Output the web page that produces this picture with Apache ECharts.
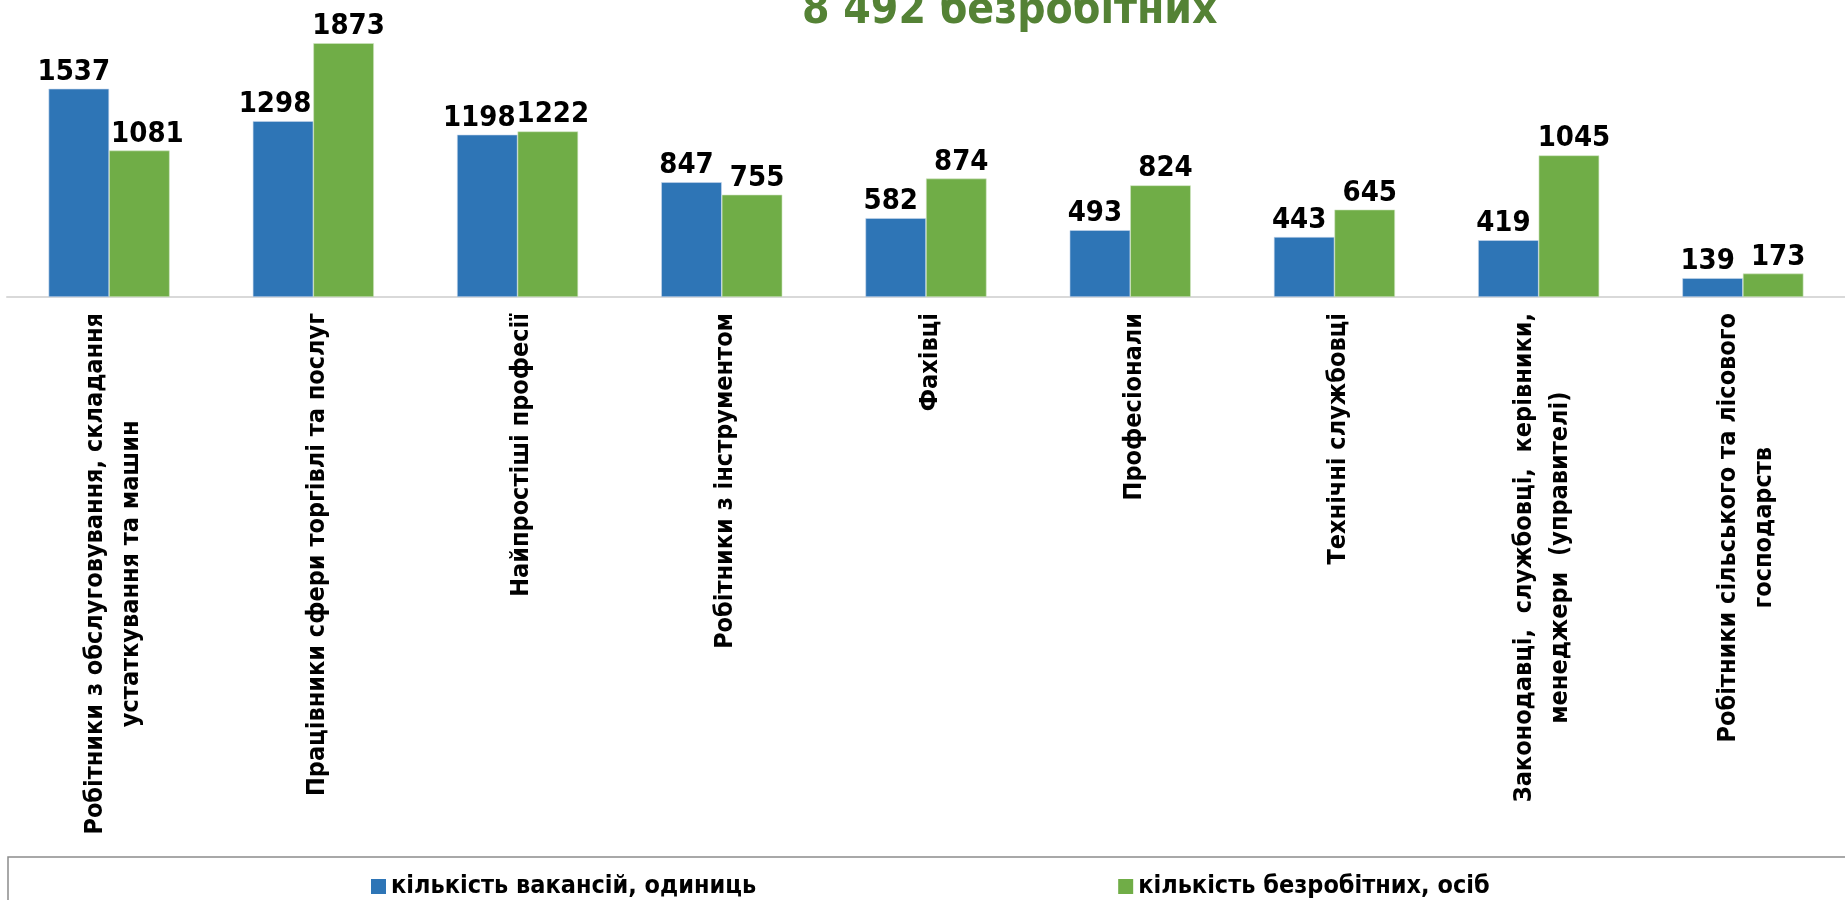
<!DOCTYPE html>
<html>
<head>
<meta charset="utf-8">
<title>Вакансії та безробітні</title>
<script src="https://cdn.jsdelivr.net/npm/echarts@6/dist/echarts.min.js"></script>
<style>
  html, body { margin: 0; padding: 0; background: #fff; }
  #chart { width: 1845px; height: 900px; }
</style>
</head>
<body>
<div id="chart"></div>
<script>
// професійні групи (підписи осі X)
var categories = [
    'Робітники з обслуговування, складання\nустаткування та машин',
    'Працівники сфери торгівлі та послуг',
    'Найпростіші професії',
    'Робітники з інструментом',
    'Фахівці',
    'Професіонали',
    'Технічні службовці',
    'Законодавці,  службовці,  керівники,\nменеджери  (управителі)',
    'Робітники сільського та лісового\nгосподарств'
];
var vacancies = [1537, 1298, 1198, 847, 582, 493, 443, 419, 139];
var unemployed = [1081, 1873, 1222, 755, 874, 824, 645, 1045, 173];
var seriesNames = ['кількість вакансій, одиниць', 'кількість безробітних, осіб'];
var titleText = '8 492 безробітних';

var FONT = '"DejaVu Sans Condensed", "DejaVu Sans", sans-serif';

var chart = echarts.init(document.getElementById('chart'));

var barLabel = {
    show: true,
    position: 'top',
    distance: 2,
    color: '#000',
    fontFamily: FONT,
    fontWeight: 'bold',
    fontSize: 29
};

// підписи трохи розсуваються назовні, як в Excel, і не налазять на сусідній стовпчик
function pushLabel(p) {
    var own = p.seriesIndex === 0 ? vacancies : unemployed;
    var other = p.seriesIndex === 0 ? unemployed : vacancies;
    var r = p.rect, l = p.labelRect;
    var dx = p.seriesIndex === 0 ? -5 : 5;
    var bottom = r.y + r.height;
    var otherTop = bottom - other[p.dataIndex] * r.height / own[p.dataIndex];
    if (l.y + l.height > otherTop) {
        if (p.seriesIndex === 0) {
            var edge = r.x + r.width - 2;
            if (l.x + l.width + dx > edge) dx = edge - (l.x + l.width);
        } else {
            var edgeL = r.x + 2;
            if (l.x + dx < edgeL) dx = edgeL - l.x;
        }
    }
    return { dx: dx };
}

var option = {
    animation: false,
    textStyle: { fontFamily: FONT },
    color: ['#2E75B6', '#70AD47'],
    title: {
        text: titleText,
        left: 802,
        top: -10,
        padding: 0,
        textStyle: {
            color: '#548235',
            fontFamily: FONT,
            fontWeight: 'bold',
            fontSize: 44,
            lineHeight: 44
        }
    },
    legend: {
        data: seriesNames,
        left: 8,
        top: 857,
        width: 1300,
        padding: [17, 500, 30, 363],
        itemGap: 362,
        itemWidth: 15,
        itemHeight: 15,
        icon: 'rect',
        itemStyle: { borderWidth: 0 },
        borderColor: '#8c8c8c',
        borderWidth: 1.5,
        textStyle: {
            color: '#000',
            fontFamily: FONT,
            fontWeight: 'bold',
            fontSize: 25
        }
    },
    grid: {
        left: 7,
        top: 26,
        width: 1850,
        bottom: 603,
        containLabel: false
    },
    xAxis: {
        type: 'category',
        data: categories,
        axisLine: { lineStyle: { color: '#d9d9d9', width: 2 } },
        axisTick: { show: false },
        axisLabel: {
            interval: 0,
            rotate: 90,
            margin: 16,
            padding: [8, 0, 0, 0],
            formatter: function (val) {
                return val.split('\n').map(function (s) { return '{c|' + s + '}'; }).join('\n');
            },
            rich: {
                c: {
                    align: 'center',
                    color: '#000',
                    fontFamily: FONT,
                    fontWeight: 'bold',
                    fontSize: 25,
                    lineHeight: 36
                }
            }
        }
    },
    yAxis: {
        type: 'value',
        min: 0,
        max: 2000,
        show: false,
        splitLine: { show: false }
    },
    series: [
        {
            name: seriesNames[0],
            type: 'bar',
            data: vacancies,
            barGap: '0%',
            barCategoryGap: '40.7%',
            itemStyle: { borderColor: '#c9d9ec', borderWidth: 0.6 },
            label: barLabel,
            labelLayout: pushLabel
        },
        {
            name: seriesNames[1],
            type: 'bar',
            data: unemployed,
            itemStyle: { borderColor: '#d2e5c4', borderWidth: 0.6 },
            label: barLabel,
            labelLayout: pushLabel
        }
    ]
};

chart.setOption(option);
</script>
</body>
</html>
